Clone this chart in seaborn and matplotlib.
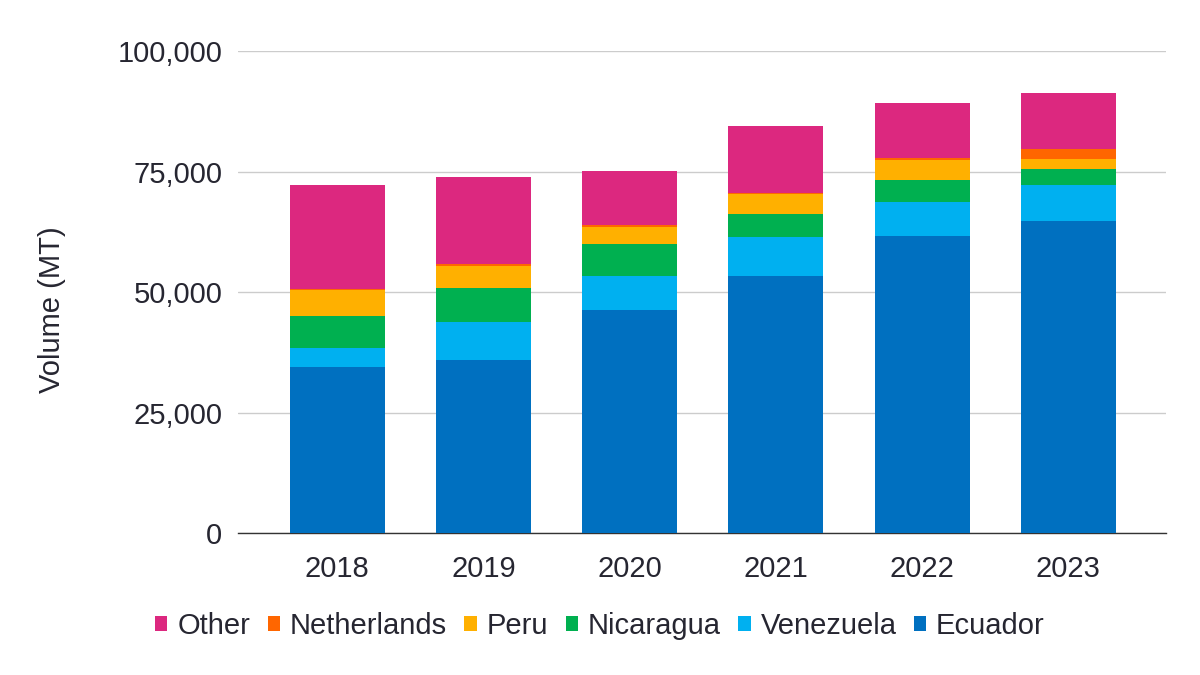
import matplotlib
matplotlib.use("Agg")
import matplotlib.pyplot as plt
import seaborn as sns
import numpy as np
import pandas as pd
from matplotlib.patches import Patch
from matplotlib.ticker import FuncFormatter

years = ["2018", "2019", "2020", "2021", "2022", "2023"]
ecuador = [34500, 35900, 46300, 53300, 61600, 64700]
venezuela = [3900, 7900, 7000, 8100, 7100, 7500]
nicaragua = [6700, 7000, 6700, 4800, 4500, 3300]
peru = [5300, 4600, 3500, 4100, 4200, 2100]
netherlands = [200, 400, 400, 400, 400, 2100]
other = [21600, 18100, 11200, 13700, 11400, 11600]

series_names = ["Ecuador", "Venezuela", "Nicaragua", "Peru", "Netherlands", "Other"]
series_vals = [ecuador, venezuela, nicaragua, peru, netherlands, other]
colors = {
    "Ecuador": "#0070C0",
    "Venezuela": "#00B0F0",
    "Nicaragua": "#00B050",
    "Peru": "#FFB000",
    "Netherlands": "#FF6600",
    "Other": "#DC287F",
}

sns.set_theme(style="white")
plt.rcParams["font.family"] = ["Liberation Sans", "DejaVu Sans"]
text_color = "#262631"

fig = plt.figure(figsize=(12, 6.75), dpi=100)
ax = fig.add_axes([0.198, 0.21, 0.774, 0.714])

cum = np.cumsum(np.array(series_vals), axis=0)
# draw from top-most cumulative to bottom so lower segments overlay
for i in range(len(series_names) - 1, -1, -1):
    df = pd.DataFrame({"year": years, "value": cum[i]})
    sns.barplot(data=df, x="year", y="value", color=colors[series_names[i]],
                width=0.65, ax=ax, saturation=1, linewidth=0, zorder=3)

ax.set_xlim(-0.68, 5.67)
ax.set_ylim(0, 100000)
ax.set_yticks([0, 25000, 50000, 75000, 100000])
ax.yaxis.set_major_formatter(FuncFormatter(lambda v, p: f"{int(v):,}"))
ax.grid(axis="y", color="#cccccc", linewidth=1, zorder=0)
ax.set_axisbelow(True)
for s in ["left", "right", "top"]:
    ax.spines[s].set_visible(False)
ax.spines["bottom"].set_color("#333333")
ax.spines["bottom"].set_linewidth(1)
ax.tick_params(axis="both", length=0, labelsize=21, colors=text_color)
ax.tick_params(axis="x", pad=16)
ax.tick_params(axis="y", pad=11)
ax.set_xlabel("")
ax.set_ylabel("Volume (MT)", fontsize=21, color=text_color)
ax.yaxis.set_label_coords(-0.185, 0.463)

legend_order = ["Other", "Netherlands", "Peru", "Nicaragua", "Venezuela", "Ecuador"]
handles = [Patch(facecolor=colors[n], edgecolor="none", label=n) for n in legend_order]
fig.legend(handles=handles, loc="center", bbox_to_anchor=(0.5, 0.073), ncol=6,
           frameon=False, fontsize=21, handlelength=0.42, handleheight=0.42,
           handletextpad=0.34, columnspacing=0.6, labelcolor=text_color)

fig.savefig("out.png", dpi=100)
